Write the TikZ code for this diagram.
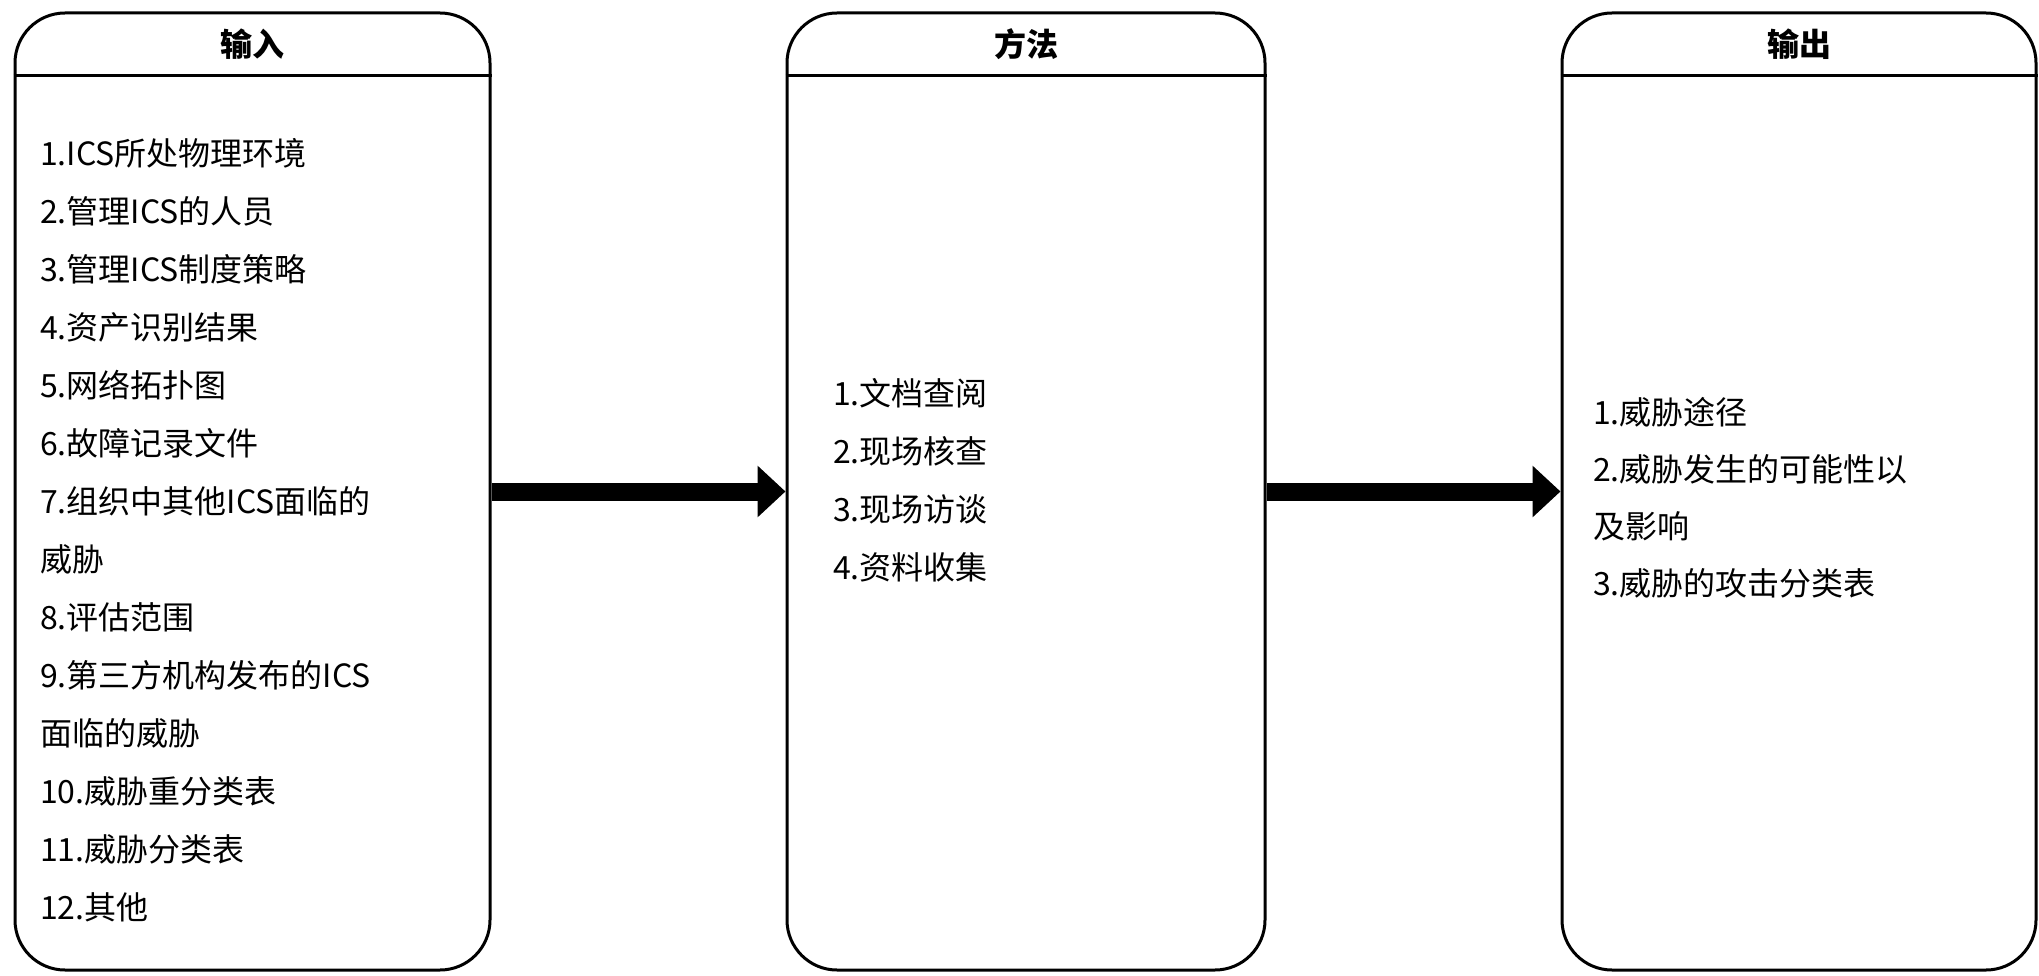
\documentclass[tikz,border=0pt]{standalone}
\usepackage{fontspec}
\setmainfont{Noto Sans CJK SC}
\usetikzlibrary{arrows.meta}
\tikzset{
  panel/.style={draw=black, line width=3pt, rounded corners=50pt, minimum width=475pt, minimum height=957pt, inner sep=0pt},
  divider/.style={draw=black, line width=3pt},
  title/.style={font=\fontsize{32}{38}\selectfont\bfseries, inner sep=0pt},
  item/.style={font=\fontsize{32}{38}\selectfont, inner sep=0pt, anchor=west},
  bigarrow/.style={draw=black, line width=18pt, -{Triangle[length=28pt,width=50pt]}}
}
\begin{document}
\begin{tikzpicture}[x=1pt,y=-1pt]
\useasboundingbox (0,0) rectangle (2039,976);
% panels
\node[panel] (inbox) at (252.5,491.5) {};
\node[panel, minimum width=478pt] (methbox) at (1026,491.5) {};
\node[panel, minimum width=474pt] (outbox) at (1799,491.5) {};
% header dividers
\foreach \b in {inbox,methbox,outbox}{
  \draw[divider] ([yshift=-64pt]\b.north west) -- ([yshift=-64pt]\b.north east);
}
% titles
\node[title] (intitle) at ([yshift=-33pt]inbox.north) {输入};
\node[title] (methtitle) at ([yshift=-33pt]methbox.north) {方法};
\node[title] (outtitle) at ([yshift=-33pt]outbox.north) {输出};
% input items
\foreach \t [count=\i] in {1.ICS所处物理环境, 2.管理ICS的人员, 3.管理ICS制度策略, 4.资产识别结果, 5.网络拓扑图, 6.故障记录文件, 7.组织中其他ICS面临的, 威胁, 8.评估范围, 9.第三方机构发布的ICS, 面临的威胁, 10.威胁重分类表, 11.威胁分类表, 12.其他}{
  \node[item] (in\i) at (40,{153+58*(\i-1)}) {\t};
}
% method items
\foreach \t [count=\i] in {1.文档查阅, 2.现场核查, 3.现场访谈, 4.资料收集}{
  \node[item] (me\i) at (833,{393+58*(\i-1)}) {\t};
}
% output items
\foreach \t [count=\i] in {1.威胁途径, 2.威胁发生的可能性以, 及影响, 3.威胁的攻击分类表}{
  \node[item] (ou\i) at (1593,{412+57*(\i-1)}) {\t};
}
% arrows
\draw[bigarrow] (inbox.east) -- (methbox.west);
\draw[bigarrow] (methbox.east) -- (outbox.west);
\end{tikzpicture}
\end{document}
